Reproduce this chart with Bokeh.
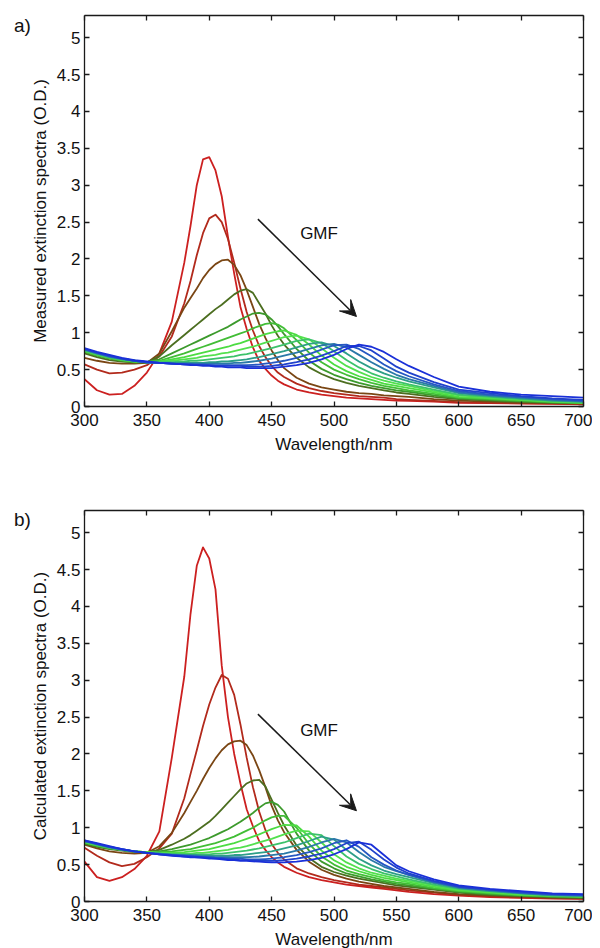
from bokeh.plotting import figure
from bokeh.models import Range1d, LinearAxis, FixedTicker, NumeralTickFormatter, Arrow, VeeHead, Label, Div
from bokeh.layouts import column, row
from bokeh.embed import file_html
from bokeh.resources import INLINE

# wavelength grid (nm)
WL = [300, 310, 320, 330, 340, 350, 360, 370, 380,
      385, 390, 395, 400, 405, 410, 415, 420, 425, 430,
      435, 440, 445, 450, 455, 460, 470, 480, 490, 500, 510, 520, 530, 540, 550, 560,
      580, 600, 625, 650, 675, 700]

X_TICKS = [300, 350, 400, 450, 500, 550, 600, 650, 700]
Y_TICKS = [0, 0.5, 1, 1.5, 2, 2.5, 3, 3.5, 4, 4.5, 5]

# ---- a) measured extinction spectra (O.D.) ----
A1 = [0.37, 0.22, 0.16, 0.17, 0.28, 0.46, 0.72, 1.15, 1.95,
      2.45, 3.0, 3.35, 3.38, 3.2, 2.85, 2.3, 1.8, 1.35, 1.05,
      0.8, 0.62, 0.51, 0.42, 0.35, 0.3, 0.23, 0.19, 0.16, 0.14, 0.12, 0.11, 0.1, 0.09, 0.08, 0.075,
      0.065, 0.05, 0.045, 0.04, 0.035, 0.03]
A2 = [0.57, 0.5, 0.45, 0.46, 0.5, 0.56, 0.68, 0.95, 1.4,
      1.7, 2.05, 2.35, 2.55, 2.6, 2.5, 2.27, 1.95, 1.6, 1.28,
      1.03, 0.82, 0.67, 0.55, 0.46, 0.4, 0.31, 0.25, 0.21, 0.18, 0.16, 0.14, 0.13, 0.12, 0.1, 0.09,
      0.075, 0.06, 0.05, 0.045, 0.04, 0.035]
A3 = [0.66, 0.62, 0.59, 0.58, 0.58, 0.59, 0.72, 1.02, 1.34,
      1.47, 1.6, 1.74, 1.85, 1.93, 1.98, 1.99, 1.92, 1.78, 1.58,
      1.35, 1.12, 0.93, 0.76, 0.63, 0.52, 0.39, 0.31, 0.26, 0.23, 0.2, 0.18, 0.17, 0.15, 0.14, 0.13,
      0.1, 0.08, 0.065, 0.05, 0.045, 0.04]
A4 = [0.72, 0.67, 0.63, 0.61, 0.6, 0.6, 0.68, 0.83, 0.97,
      1.04, 1.11, 1.18, 1.25, 1.32, 1.38, 1.45, 1.52, 1.57, 1.59,
      1.54, 1.4, 1.26, 1.1, 0.96, 0.84, 0.66, 0.53, 0.44, 0.37, 0.32, 0.28, 0.25, 0.22, 0.19, 0.17,
      0.13, 0.1, 0.08, 0.065, 0.05, 0.045]
A5 = [0.74, 0.69, 0.65, 0.62, 0.6, 0.6, 0.64, 0.72, 0.8,
      0.84, 0.88, 0.92, 0.96, 1.0, 1.04, 1.08, 1.13, 1.18, 1.22,
      1.26, 1.27, 1.25, 1.18, 1.09, 0.98, 0.78, 0.62, 0.51, 0.43, 0.37, 0.32, 0.28, 0.25, 0.22, 0.2,
      0.15, 0.11, 0.09, 0.07, 0.055, 0.045]
A6 = [0.75, 0.7, 0.66, 0.63, 0.61, 0.6, 0.62, 0.67, 0.72,
      0.75, 0.78, 0.81, 0.84, 0.87, 0.9, 0.93, 0.96, 0.99, 1.02,
      1.06, 1.09, 1.12, 1.13, 1.11, 1.06, 0.9, 0.73, 0.6, 0.5, 0.43, 0.37, 0.32, 0.28, 0.25, 0.22,
      0.17, 0.12, 0.1, 0.08, 0.06, 0.05]
A7 = [0.75, 0.7, 0.66, 0.63, 0.61, 0.6, 0.61, 0.64, 0.67,
      0.69, 0.71, 0.73, 0.75, 0.77, 0.79, 0.81, 0.84, 0.86, 0.89,
      0.92, 0.95, 0.98, 1.0, 1.02, 1.03, 0.97, 0.84, 0.69, 0.57, 0.48, 0.41, 0.36, 0.31, 0.28, 0.25,
      0.19, 0.13, 0.11, 0.09, 0.065, 0.05]
A8 = [0.76, 0.71, 0.67, 0.64, 0.62, 0.6, 0.6, 0.62, 0.64,
      0.65, 0.66, 0.68, 0.69, 0.7, 0.72, 0.73, 0.75, 0.77, 0.79,
      0.81, 0.84, 0.865, 0.89, 0.915, 0.94, 0.96, 0.91, 0.79, 0.66, 0.55, 0.47, 0.4, 0.35, 0.31, 0.28,
      0.21, 0.15, 0.12, 0.095, 0.07, 0.055]
A9 = [0.76, 0.71, 0.67, 0.64, 0.62, 0.6, 0.6, 0.6, 0.61,
      0.62, 0.62, 0.63, 0.64, 0.65, 0.66, 0.67, 0.68, 0.7, 0.71,
      0.73, 0.75, 0.77, 0.79, 0.815, 0.84, 0.89, 0.91, 0.86, 0.75, 0.63, 0.53, 0.45, 0.39, 0.34, 0.3,
      0.23, 0.16, 0.13, 0.1, 0.075, 0.06]
A10 = [0.77, 0.72, 0.67, 0.64, 0.62, 0.6, 0.59, 0.59, 0.59,
       0.59, 0.59, 0.59, 0.6, 0.6, 0.61, 0.61, 0.62, 0.63, 0.64,
       0.655, 0.67, 0.69, 0.71, 0.73, 0.75, 0.8, 0.85, 0.87, 0.82, 0.72, 0.61, 0.52, 0.45, 0.39, 0.34,
       0.26, 0.18, 0.14, 0.11, 0.08, 0.065]
A11 = [0.77, 0.72, 0.68, 0.65, 0.62, 0.6, 0.59, 0.58, 0.58,
       0.58, 0.58, 0.58, 0.58, 0.58, 0.58, 0.58, 0.59, 0.59, 0.6,
       0.61, 0.62, 0.635, 0.65, 0.67, 0.69, 0.73, 0.78, 0.83, 0.85, 0.8, 0.7, 0.6, 0.51, 0.43, 0.37,
       0.28, 0.19, 0.15, 0.12, 0.09, 0.07]
A12 = [0.78, 0.73, 0.68, 0.65, 0.62, 0.6, 0.59, 0.58, 0.57,
       0.57, 0.57, 0.57, 0.56, 0.56, 0.56, 0.56, 0.56, 0.56, 0.56,
       0.565, 0.57, 0.58, 0.59, 0.605, 0.62, 0.66, 0.71, 0.77, 0.83, 0.84, 0.78, 0.68, 0.57, 0.48, 0.41,
       0.3, 0.21, 0.16, 0.13, 0.1, 0.08]
A13 = [0.78, 0.73, 0.69, 0.65, 0.62, 0.6, 0.59, 0.58, 0.57,
       0.57, 0.56, 0.56, 0.56, 0.55, 0.55, 0.55, 0.55, 0.55, 0.54,
       0.54, 0.54, 0.545, 0.55, 0.56, 0.57, 0.6, 0.64, 0.69, 0.75, 0.82, 0.82, 0.76, 0.65, 0.54, 0.46,
       0.33, 0.23, 0.18, 0.14, 0.11, 0.09]
A14 = [0.79, 0.74, 0.7, 0.66, 0.63, 0.61, 0.59, 0.58, 0.57,
       0.56, 0.56, 0.55, 0.55, 0.54, 0.54, 0.53, 0.53, 0.53, 0.52,
       0.52, 0.52, 0.52, 0.52, 0.53, 0.54, 0.56, 0.59, 0.64, 0.7, 0.78, 0.84, 0.81, 0.74, 0.64, 0.55,
       0.4, 0.27, 0.2, 0.16, 0.14, 0.12]

# ---- b) calculated extinction spectra (O.D.) ----
B1 = [0.54, 0.33, 0.28, 0.33, 0.44, 0.62, 0.95, 1.95, 3.05,
      3.9, 4.55, 4.8, 4.65, 4.23, 3.2, 2.5, 2.0, 1.6, 1.25,
      1.02, 0.82, 0.7, 0.6, 0.53, 0.47, 0.39, 0.33, 0.29, 0.26, 0.23, 0.21, 0.19, 0.17, 0.15, 0.13,
      0.1, 0.08, 0.06, 0.05, 0.04, 0.035]
B2 = [0.73, 0.62, 0.53, 0.48, 0.51, 0.6, 0.72, 0.92, 1.4,
      1.73, 2.05, 2.38, 2.67, 2.9, 3.07, 3.02, 2.8, 2.4, 1.95,
      1.55, 1.22, 0.97, 0.78, 0.66, 0.57, 0.45, 0.38, 0.33, 0.29, 0.26, 0.23, 0.21, 0.19, 0.17, 0.15,
      0.12, 0.09, 0.07, 0.055, 0.045, 0.04]
B3 = [0.77, 0.72, 0.68, 0.66, 0.65, 0.66, 0.75, 0.93, 1.2,
      1.35, 1.5, 1.66, 1.81, 1.94, 2.05, 2.13, 2.17, 2.18, 2.12,
      1.98, 1.78, 1.55, 1.3, 1.1, 0.94, 0.7, 0.54, 0.43, 0.36, 0.31, 0.27, 0.24, 0.21, 0.19, 0.17,
      0.13, 0.1, 0.08, 0.065, 0.05, 0.045]
B4 = [0.78, 0.74, 0.71, 0.69, 0.67, 0.67, 0.7, 0.77, 0.85,
      0.9, 0.96, 1.02, 1.08, 1.16, 1.25, 1.34, 1.43, 1.52, 1.6,
      1.64, 1.65, 1.56, 1.38, 1.2, 1.03, 0.76, 0.59, 0.47, 0.4, 0.35, 0.31, 0.28, 0.25, 0.22, 0.2,
      0.16, 0.12, 0.09, 0.075, 0.06, 0.05]
B5 = [0.79, 0.75, 0.72, 0.7, 0.68, 0.67, 0.68, 0.71, 0.75,
      0.77, 0.8, 0.83, 0.86, 0.9, 0.94, 0.98, 1.03, 1.08, 1.14,
      1.2, 1.27, 1.33, 1.35, 1.31, 1.22, 0.92, 0.69, 0.54, 0.45, 0.38, 0.34, 0.3, 0.27, 0.24, 0.22,
      0.17, 0.13, 0.1, 0.08, 0.065, 0.055]
B6 = [0.8, 0.76, 0.72, 0.7, 0.68, 0.67, 0.67, 0.68, 0.7,
      0.71, 0.73, 0.75, 0.77, 0.79, 0.82, 0.85, 0.88, 0.92, 0.96,
      1.0, 1.05, 1.1, 1.14, 1.16, 1.16, 1.0, 0.78, 0.61, 0.5, 0.42, 0.37, 0.33, 0.29, 0.26, 0.24,
      0.18, 0.14, 0.11, 0.085, 0.07, 0.06]
B7 = [0.8, 0.76, 0.73, 0.7, 0.68, 0.67, 0.66, 0.66, 0.67,
      0.68, 0.69, 0.7, 0.71, 0.73, 0.75, 0.77, 0.79, 0.82, 0.85,
      0.88, 0.91, 0.945, 0.98, 1.01, 1.04, 1.03, 0.88, 0.69, 0.56, 0.47, 0.41, 0.36, 0.32, 0.29, 0.26,
      0.2, 0.15, 0.12, 0.09, 0.075, 0.065]
B8 = [0.81, 0.77, 0.73, 0.7, 0.68, 0.67, 0.66, 0.65, 0.65,
      0.65, 0.66, 0.66, 0.67, 0.68, 0.69, 0.7, 0.72, 0.73, 0.75,
      0.775, 0.8, 0.825, 0.85, 0.88, 0.91, 0.96, 0.95, 0.8, 0.64, 0.53, 0.45, 0.39, 0.35, 0.31, 0.28,
      0.22, 0.16, 0.13, 0.1, 0.08, 0.07]
B9 = [0.81, 0.77, 0.73, 0.7, 0.68, 0.66, 0.65, 0.64, 0.64,
      0.64, 0.64, 0.64, 0.64, 0.65, 0.65, 0.66, 0.67, 0.68, 0.69,
      0.705, 0.72, 0.74, 0.76, 0.78, 0.8, 0.86, 0.92, 0.9, 0.75, 0.61, 0.51, 0.44, 0.38, 0.34, 0.3,
      0.23, 0.17, 0.14, 0.11, 0.085, 0.075]
B10 = [0.82, 0.77, 0.73, 0.7, 0.68, 0.66, 0.65, 0.64, 0.63,
       0.63, 0.63, 0.62, 0.62, 0.62, 0.62, 0.62, 0.63, 0.63, 0.64,
       0.65, 0.66, 0.67, 0.68, 0.7, 0.72, 0.76, 0.82, 0.88, 0.84, 0.7, 0.58, 0.49, 0.42, 0.37, 0.33,
       0.25, 0.18, 0.14, 0.11, 0.085, 0.075]
B11 = [0.82, 0.78, 0.74, 0.7, 0.68, 0.66, 0.65, 0.63, 0.62,
       0.62, 0.61, 0.61, 0.61, 0.6, 0.6, 0.6, 0.6, 0.6, 0.6,
       0.605, 0.61, 0.62, 0.63, 0.64, 0.65, 0.69, 0.74, 0.8, 0.85, 0.8, 0.67, 0.56, 0.47, 0.41, 0.36,
       0.26, 0.19, 0.15, 0.115, 0.09, 0.08]
B12 = [0.82, 0.78, 0.74, 0.71, 0.68, 0.66, 0.64, 0.63, 0.62,
       0.61, 0.61, 0.6, 0.6, 0.59, 0.59, 0.58, 0.58, 0.58, 0.57,
       0.57, 0.57, 0.575, 0.58, 0.59, 0.6, 0.63, 0.67, 0.72, 0.79, 0.83, 0.74, 0.6, 0.5, 0.42, 0.36,
       0.27, 0.2, 0.16, 0.12, 0.1, 0.09]
B13 = [0.83, 0.78, 0.74, 0.71, 0.68, 0.66, 0.64, 0.63, 0.61,
       0.61, 0.6, 0.6, 0.59, 0.58, 0.58, 0.57, 0.57, 0.56, 0.56,
       0.555, 0.55, 0.55, 0.55, 0.555, 0.56, 0.58, 0.61, 0.65, 0.71, 0.79, 0.81, 0.7, 0.57, 0.46, 0.38,
       0.28, 0.2, 0.16, 0.13, 0.1, 0.09]
B14 = [0.83, 0.79, 0.75, 0.71, 0.68, 0.66, 0.64, 0.62, 0.61,
       0.6, 0.6, 0.59, 0.58, 0.58, 0.57, 0.56, 0.56, 0.55, 0.55,
       0.545, 0.54, 0.535, 0.53, 0.53, 0.53, 0.54, 0.56, 0.59, 0.64, 0.71, 0.8, 0.77, 0.63, 0.49, 0.41,
       0.3, 0.22, 0.17, 0.14, 0.11, 0.1]

MEASURED = [A1, A2, A3, A4, A5, A6, A7, A8, A9, A10, A11, A12, A13, A14]
CALCULATED = [B1, B2, B3, B4, B5, B6, B7, B8, B9, B10, B11, B12, B13, B14]

# colour of each spectrum, red -> green -> blue with increasing GMF
COLORS = ["#cc2020", "#b22a1c", "#7a4614", "#4c6e20", "#3c9a2c", "#42bd36",
          "#4cdc42", "#52e04e", "#3cc26a", "#2e9e88", "#2a78a8", "#2658c2",
          "#2042cc", "#1a30d8"]

for s in MEASURED + CALCULATED:
    assert len(s) == len(WL)

FONT = "Liberation Sans"
INK = "#1a1a1a"


def style_axis(ax, ticks, show_labels, label_standoff=4, axis_label_standoff=0):
    ax.ticker = FixedTicker(ticks=ticks)
    ax.major_tick_in = 5
    ax.major_tick_out = 0
    ax.minor_tick_line_color = None
    ax.axis_line_color = INK
    ax.axis_line_width = 1.3
    ax.major_tick_line_color = INK
    ax.major_tick_line_width = 1.3
    ax.major_label_text_font = FONT
    if show_labels:
        ax.major_label_text_color = "#111111"
        ax.major_label_text_font_size = "17px"
        ax.major_label_standoff = label_standoff
    else:
        ax.major_label_text_color = None
        ax.major_label_text_font_size = "1px"
        ax.major_label_standoff = 0
    ax.axis_label_text_font = FONT
    ax.axis_label_text_font_size = "17px"
    ax.axis_label_text_font_style = "normal"
    ax.axis_label_text_color = "#111111"
    ax.axis_label_standoff = axis_label_standoff


def make_panel(series, ylabel, top, bottom, arrow, gmf):
    p = figure(frame_width=499, frame_height=391,
               min_border_left=52, min_border_right=9,
               min_border_top=top, min_border_bottom=bottom,
               x_range=Range1d(300, 700), y_range=Range1d(0, 5.3),
               output_backend="svg", toolbar_location=None, tools="")
    p.xgrid.grid_line_color = None
    p.ygrid.grid_line_color = None
    p.outline_line_color = None
    p.background_fill_color = "white"
    p.border_fill_color = None

    for ys, c in zip(series, COLORS):
        p.line(WL, ys, line_color=c, line_width=1.8, line_join="round")

    p.xaxis.axis_label = "Wavelength/nm"
    p.yaxis.axis_label = ylabel
    style_axis(p.xaxis[0], X_TICKS, True, 7, 6)
    style_axis(p.yaxis[0], Y_TICKS, True, 4, 4)
    p.yaxis[0].formatter = NumeralTickFormatter(format="0.[0]")

    top_ax = LinearAxis()
    right_ax = LinearAxis()
    p.add_layout(top_ax, "above")
    p.add_layout(right_ax, "right")
    style_axis(top_ax, X_TICKS, False)
    style_axis(right_ax, Y_TICKS, False)

    (xs, ys0), (xe, ye) = arrow
    p.add_layout(Arrow(x_start=xs, y_start=ys0, x_end=xe, y_end=ye,
                       line_color=INK, line_width=1.5,
                       end=VeeHead(size=16, fill_color=INK, line_color=INK, line_width=1)))
    p.add_layout(Label(x=gmf[0], y=gmf[1], text="GMF", text_align="center",
                       text_baseline="middle", text_font=FONT, text_font_size="17px",
                       text_color="#111111"))
    return p


def tag_div(text, pad_top, height):
    html = ('<div style="position:relative; left:14px; top:%dpx; '
            'font-family:\'Liberation Sans\', Arial, sans-serif; font-size:19px; '
            'line-height:1; color:#111111; white-space:nowrap;">%s</div>' % (pad_top, text))
    return Div(text=html, width=27, height=height, margin=0,
               styles={"overflow": "visible", "z-index": "2"})


ARROW_A = ((439, 2.54), (518, 1.22))
ARROW_B = ((439, 2.54), (518, 1.23))
GMF_A = (488, 2.34)
GMF_B = (488, 2.32)

pa = make_panel(MEASURED, "Measured extinction spectra (O.D.)", 15, 56, ARROW_A, GMF_A)
pb = make_panel(CALCULATED, "Calculated extinction spectra (O.D.)", 48, 45, ARROW_B, GMF_B)

layout = column(row(tag_div("a)", 16, 40), pa, spacing=0),
                row(tag_div("b)", 48, 72), pb, spacing=0),
                spacing=0)
open("out.html", "w").write(file_html(layout, INLINE))
